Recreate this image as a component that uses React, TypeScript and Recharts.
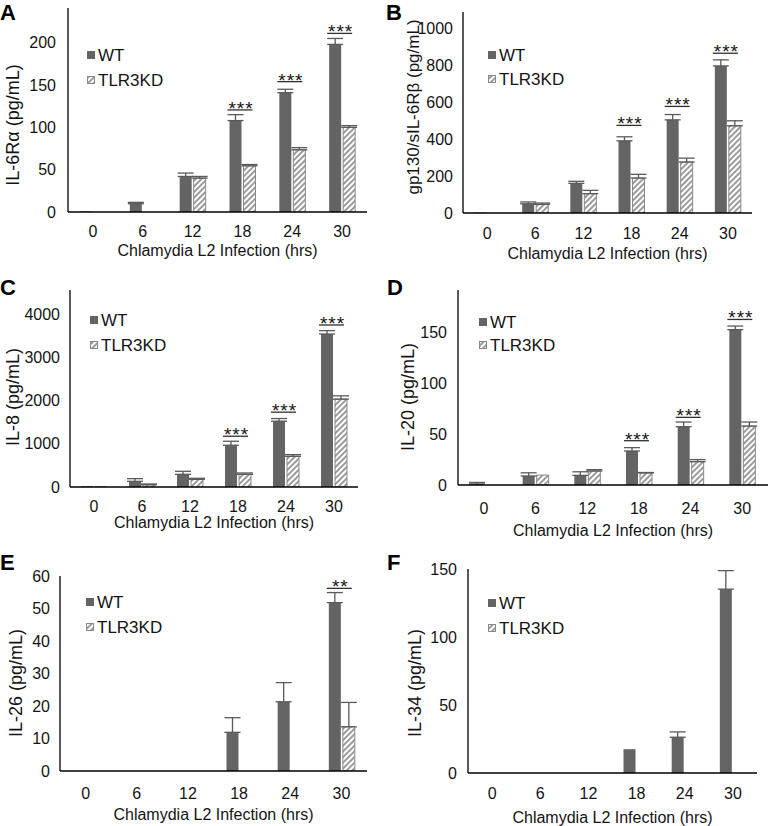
import { BarChart, Bar, XAxis, YAxis, ErrorBar, LabelList } from 'recharts';

const hours = ['0', '6', '12', '18', '24', '30'];

// A: IL-6Ra
const il6raWT = [0.5, 9.8, 42, 108, 141, 198];
const il6raWTErr = [0, 1.6, 4, 7, 4, 7];
const il6raKD = [0, 0, 40, 54.6, 73.5, 100];
const il6raKDErr = [0, 0, 2, 1.5, 2.5, 2];
const il6raSig = [null, null, null, 120.6, 154, 211];

// B: gp130/sIL-6Rb
const gp130WT = [3, 50, 161, 392, 506, 799];
const gp130WTErr = [0, 10, 11, 22, 29, 33];
const gp130KD = [0, 47, 105, 190, 277, 474];
const gp130KDErr = [0, 7, 18, 20, 21, 27];
const gp130Sig = [null, null, null, 476, 579, 868];

// C: IL-8
const il8WT = [20, 132, 295, 971, 1530, 3557];
const il8WTErr = [0, 62, 70, 93, 62, 78];
const il8KD = [10, 54, 179, 295, 714, 2043];
const il8KDErr = [0, 16, 23, 31, 39, 77];
const il8Sig = [null, null, null, 1180, 1740, 3767];

// D: IL-20
const il20WT = [1, 8.9, 9.5, 33.5, 57.4, 153];
const il20WTErr = [1.5, 3.1, 3.5, 3.3, 4.6, 3.5];
const il20KD = [0, 9.8, 13.8, 12, 23, 58];
const il20KDErr = [0, 0, 1.3, 0.3, 2, 4];
const il20Sig = [null, null, null, 43.6, 66.6, 163];

// E: IL-26
const il26WT = [0, 0, 0, 11.9, 21.3, 51.8];
const il26WTErr = [0, 0, 0, 4.5, 5.9, 3.1];
const il26KD = [0, 0, 0, 0, 0, 13.6];
const il26KDErr = [0, 0, 0, 0, 0, 7.5];
const il26Sig = [null, null, null, null, null, 56.2];

// F: IL-34
const il34WT = [0, 0, 0, 17.5, 26.3, 135.2];
const il34WTErr = [0, 0, 0, 0, 3.9, 13.6];
const il34KD = [0, 0, 0, 0, 0, 0];
const il34KDErr = [0, 0, 0, 0, 0, 0];
const il34Sig = [null, null, null, null, null, null];

const FONT = '"Liberation Sans", Arial, sans-serif';
const TEXT = '#141414';
const WT_FILL = '#646464';
const KD_LINE = '#8a8a8a';
const ERR = '#5a5a5a';
const BAR_SIZE = 12;
const BAR_GAP = 2;

function buildRows(wt, wtErr, kd, kdErr, sig) {
  return hours.map((hour, i) => ({
    hour,
    wt: wt[i],
    wtErr: wtErr[i] ? [0, wtErr[i]] : undefined,
    kd: kd[i],
    kdErr: kdErr[i] ? [0, kdErr[i]] : undefined,
    sig: sig[i],
  }));
}

// sig level and bar value travel together so the label can use the bar's own scale
const sigKey = (row) => (row.sig == null ? null : `${row.sig}|${row.wt}`);

const panels = [
  {
    id: 'A', ox: 0, oy: 0, w: 385, h: 275, L: 68, T: 8, R: 367, B: 212,
    yMax: 241, ticks: [0, 50, 100, 150, 200], title: 'IL-6Rα (pg/mL)', titleSize: 18,
    rows: buildRows(il6raWT, il6raWTErr, il6raKD, il6raKDErr, il6raSig), stars: '***',
    letter: [0, 20], yTitle: [13, 125], xTitleY: 250, tickDy: 19, tickGap: 12, legend: [87, 55, 80],
  },
  {
    id: 'B', ox: 385, oy: 0, w: 386, h: 275, L: 78, T: 12, R: 367, B: 213,
    yMax: 1092, ticks: [0, 200, 400, 600, 800, 1000], title: 'gp130/sIL-6Rβ (pg/mL)', titleSize: 17,
    rows: buildRows(gp130WT, gp130WTErr, gp130KD, gp130KDErr, gp130Sig), stars: '***',
    letter: [1, 20], yTitle: [28, 107], xTitleY: 253, tickDy: 20, tickGap: 10, legend: [103, 55, 79],
  },
  {
    id: 'C', ox: 0, oy: 275, w: 385, h: 275, L: 70, T: 15, R: 358, B: 212,
    yMax: 4580, ticks: [0, 1000, 2000, 3000, 4000], title: 'IL-8 (pg/mL)', titleSize: 18,
    rows: buildRows(il8WT, il8WTErr, il8KD, il8KDErr, il8Sig), stars: '***',
    letter: [0, 20], yTitle: [13, 122], xTitleY: 247, tickDy: 19, tickGap: 10, legend: [90, 45, 70],
  },
  {
    id: 'D', ox: 385, oy: 275, w: 386, h: 275, L: 73, T: 15, R: 383, B: 210,
    yMax: 192, ticks: [0, 50, 100, 150], title: 'IL-20 (pg/mL)', titleSize: 18,
    rows: buildRows(il20WT, il20WTErr, il20KD, il20KDErr, il20Sig), stars: '***',
    letter: [2, 20], yTitle: [23, 122], xTitleY: 255, tickDy: 23, tickGap: 11, legend: [94, 47, 70],
  },
  {
    id: 'E', ox: 0, oy: 550, w: 385, h: 276, L: 60, T: 26, R: 367, B: 221,
    yMax: 60, ticks: [0, 10, 20, 30, 40, 50, 60], title: 'IL-26 (pg/mL)', titleSize: 18,
    rows: buildRows(il26WT, il26WTErr, il26KD, il26KDErr, il26Sig), stars: '**',
    letter: [0, 20], yTitle: [16, 133], xTitleY: 264, tickDy: 22, tickGap: 10, legend: [86, 52, 77],
  },
  {
    id: 'F', ox: 385, oy: 550, w: 386, h: 276, L: 83, T: 19, R: 372, B: 223,
    yMax: 150, ticks: [0, 50, 100, 150], title: 'IL-34 (pg/mL)', titleSize: 18,
    rows: buildRows(il34WT, il34WTErr, il34KD, il34KDErr, il34Sig), stars: '***',
    letter: [2, 20], yTitle: [30, 133], xTitleY: 267, tickDy: 20, tickGap: 11, legend: [103, 53, 78],
  },
];

function Hatch({ id }) {
  return (
    <pattern id={id} patternUnits="userSpaceOnUse" width={4} height={4} patternTransform="rotate(45)">
      <rect width={4} height={4} fill="#ffffff" />
      <line x1={1} y1={0} x2={1} y2={4} stroke={KD_LINE} strokeWidth={1.7} />
    </pattern>
  );
}

function sigLabel(stars) {
  return (props) => {
    if (props.value == null || props.value === '') return null;
    const [sig, wt] = String(props.value).split('|').map(Number);
    if (!wt) return null;
    const x = Number(props.x);
    const y = Number(props.y);
    const width = Number(props.width);
    const height = Number(props.height);
    const base = y + height;
    const py = base - (sig / wt) * height;
    const x1 = x - 2;
    const x2 = x + 2 * width + BAR_GAP - 3;
    return (
      <g>
        <line x1={x1} y1={py} x2={x2} y2={py} stroke="#303030" strokeWidth={1.3} />
        <text x={(x1 + x2) / 2 + 1} y={py + 5} textAnchor="middle" fontSize={19} letterSpacing={1}
          fontFamily={FONT} fill={TEXT}>{stars}</text>
      </g>
    );
  };
}

function Panel({ p }) {
  const hatchId = `hatch-${p.id}`;
  const legHatch = `hatch-leg-${p.id}`;
  const [lx, ly1, ly2] = p.legend;
  return (
    <div style={{ position: 'absolute', left: p.ox, top: p.oy, width: p.w, height: p.h }}>
      <BarChart
        width={p.w}
        height={p.h}
        data={p.rows}
        barSize={BAR_SIZE}
        barGap={BAR_GAP}
        margin={{ top: p.T, right: p.w - p.R, left: 0, bottom: p.h - p.B - 30 }}
      >
        <defs>
          <Hatch id={hatchId} />
        </defs>
        <XAxis
          dataKey="hour"
          height={30}
          tickLine={false}
          tickSize={0}
          tickMargin={0}
          axisLine={{ stroke: '#000', strokeWidth: 1.3 }}
          interval={0}
          tick={(t) => (
            <text x={t.x} y={t.y + p.tickDy} textAnchor="middle" dominantBaseline="central"
              fontSize={16} fontFamily={FONT} fill={TEXT}>{t.payload.value}</text>
          )}
        />
        <YAxis
          width={p.L}
          domain={[0, p.yMax]}
          ticks={p.ticks}
          allowDataOverflow
          tickLine={false}
          tickSize={0}
          tickMargin={0}
          axisLine={{ stroke: '#000', strokeWidth: 1.3 }}
          interval={0}
          tick={(t) => (
            <text x={t.x - p.tickGap} y={t.y} textAnchor="end" dominantBaseline="central"
              fontSize={16} fontFamily={FONT} fill={TEXT}>{t.payload.value}</text>
          )}
        />
        <Bar dataKey="wt" name="WT" fill={WT_FILL} isAnimationActive={false}>
          <ErrorBar dataKey="wtErr" width={8} stroke={ERR} strokeWidth={1.3} />
          <LabelList dataKey={sigKey} content={sigLabel(p.stars)} />
        </Bar>
        <Bar dataKey="kd" name="TLR3KD" fill={`url(#${hatchId})`} stroke={KD_LINE} strokeWidth={1}
          isAnimationActive={false}>
          <ErrorBar dataKey="kdErr" width={8} stroke={ERR} strokeWidth={1.3} />
        </Bar>
      </BarChart>
      <svg width={p.w} height={p.h} style={{ position: 'absolute', left: 0, top: 0, pointerEvents: 'none' }}>
        <defs>
          <Hatch id={legHatch} />
        </defs>
        <text x={p.letter[0]} y={p.letter[1]} fontSize={22} fontWeight="bold" fontFamily={FONT} fill="#000">
          {p.id}
        </text>
        <text
          transform={`translate(${p.yTitle[0]},${p.yTitle[1]}) rotate(-90)`}
          textAnchor="middle" dominantBaseline="central" fontSize={p.titleSize} fontFamily={FONT} fill={TEXT}
        >
          {p.title}
        </text>
        <text x={(p.L + p.R) / 2} y={p.xTitleY} textAnchor="middle" dominantBaseline="central"
          fontSize={16} fontFamily={FONT} fill={TEXT}>
          Chlamydia L2 Infection (hrs)
        </text>
        <rect x={lx} y={ly1 - 4} width={8} height={8} fill={WT_FILL} />
        <text x={lx + 11} y={ly1} dominantBaseline="central" fontSize={17} fontFamily={FONT} fill={TEXT}>WT</text>
        <rect x={lx + 0.5} y={ly2 - 3.5} width={7} height={7} fill={`url(#${legHatch})`} stroke={KD_LINE} strokeWidth={1} />
        <text x={lx + 11} y={ly2} dominantBaseline="central" fontSize={17} fontFamily={FONT} fill={TEXT}>TLR3KD</text>
      </svg>
    </div>
  );
}

export default function App() {
  return (
    <div style={{ position: 'absolute', left: 0, top: 0, width: 771, height: 826, background: '#fff' }}>
      {panels.map((p) => (
        <Panel key={p.id} p={p} />
      ))}
    </div>
  );
}
